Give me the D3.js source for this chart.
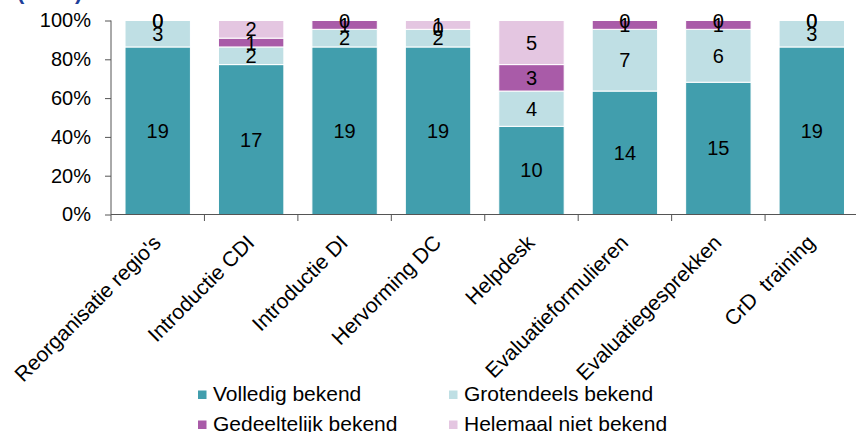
<!DOCTYPE html>
<html><head><meta charset="utf-8">
<script src="https://cdn.jsdelivr.net/npm/d3@7"></script>
<style>body{margin:0;background:#fff}svg{display:block;font-family:"Liberation Sans",Arial,sans-serif}</style>
</head><body><svg id="c" width="856" height="432"></svg>
<script>
const categories = ["Reorganisatie regio's","Introductie CDI","Introductie DI","Hervorming DC","Helpdesk","Evaluatieformulieren","Evaluatiegesprekken","CrD  training"];
const seriesNames = ["Volledig bekend","Grotendeels bekend","Gedeeltelijk bekend","Helemaal niet bekend"];
const volledig = [19,17,19,19,10,14,15,19];
const grotendeels = [3,2,2,2,4,7,6,3];
const gedeeltelijk = [0,1,1,0,3,1,1,0];
const helemaalNiet = [0,2,0,1,5,0,0,0];
const colors = ["#419ead","#bfdfe4","#a95ba8","#e4c6e1"];
const yTicks = [0,0.2,0.4,0.6,0.8,1];

const svg = d3.select("#c");
const x = d3.scaleBand().domain(categories).range([111,858.5]).paddingInner(0.3).paddingOuter(0.15);
const y = d3.scaleLinear().domain([0,1]).range([214.5,20.5]);

const rows = categories.map((c,i)=>({cat:c, v:[volledig[i],grotendeels[i],gedeeltelijk[i],helemaalNiet[i]]}));
const table = rows.map(r=>{const t=d3.sum(r.v); const o={cat:r.cat,total:t}; seriesNames.forEach((s,k)=>o[s]=r.v[k]/t); return o;});
const stack = d3.stack().keys(seriesNames)(table);

// title fragment (cut off at top)
svg.append("text").attr("x",17).attr("y",-1).attr("font-size",22).attr("font-weight","bold").attr("fill","#1f3f9a").text("(n=22)");

const g = svg.append("g");
stack.forEach((layer,k)=>{
  g.selectAll(null).data(layer).enter().append("rect")
   .attr("x",d=>x(d.data.cat)).attr("width",x.bandwidth())
   .attr("y",d=>y(d[1])).attr("height",d=>y(d[0])-y(d[1]))
   .attr("fill",colors[k]).attr("stroke","#fff").attr("stroke-width",1);
});
stack.forEach((layer,k)=>{
  g.selectAll(null).data(layer).enter().append("text")
   .attr("x",d=>x(d.data.cat)+x.bandwidth()/2)
   .attr("y",d=>y((d[0]+d[1])/2)).attr("dy","0.35em")
   .attr("text-anchor","middle").attr("font-size",20).attr("fill","#000")
   .text(d=>Math.round((d[1]-d[0])*d.data.total));
});

// y axis
const yAxis = d3.axisLeft(y).tickValues(yTicks).tickFormat(d3.format(".0%")).tickSize(6).tickPadding(14);
const ya = svg.append("g").attr("transform","translate(111,0)").call(yAxis);
ya.select(".domain").attr("stroke","#555").attr("d","M0,20.5V214.5");
ya.selectAll(".tick line").attr("stroke","#555");
ya.selectAll("text").attr("font-size",20).attr("fill","#000").attr("font-family","Liberation Sans,Arial,sans-serif");

// x axis
const step = x.step();
svg.append("line").attr("x1",111).attr("x2",856).attr("y1",214.5).attr("y2",214.5).attr("stroke","#555");
const bounds = categories.map(c=>x(c)-step*0.15);
svg.selectAll(null).data(bounds).enter().append("line")
  .attr("x1",d=>d).attr("x2",d=>d).attr("y1",214.5).attr("y2",221).attr("stroke","#555");
svg.selectAll(null).data(categories).enter().append("text")
  .attr("transform",c=>`translate(${x(c)+x.bandwidth()/2+4.5},244) rotate(-45)`)
  .attr("text-anchor","end").attr("font-size",21).attr("fill","#000")
  .style("white-space","pre").text(c=>c);

// legend
const legPos = [[198,400.5],[449,400.5],[198,430.5],[449,430.5]];
seriesNames.forEach((s,k)=>{
  const [lx,ly]=legPos[k];
  svg.append("rect").attr("x",lx).attr("y",ly-10).attr("width",8.5).attr("height",8.5).attr("fill",colors[k]);
  svg.append("text").attr("x",lx+15).attr("y",ly).attr("font-size",21).attr("fill","#000").text(s);
});
</script></body></html>
